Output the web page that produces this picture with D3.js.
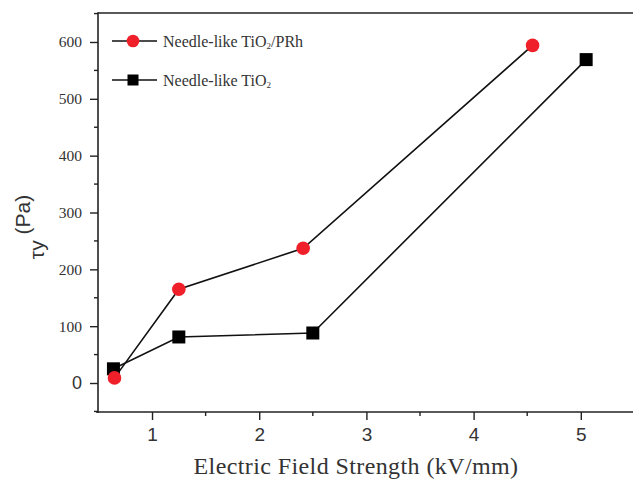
<!DOCTYPE html>
<html>
<head>
<meta charset="utf-8">
<script src="https://cdn.jsdelivr.net/npm/d3@7"></script>
<style>
  body { margin: 0; background: #fff; }
  svg { display: block; }
</style>
</head>
<body>
<svg width="633" height="481"></svg>
<script>
// data
const prhX = [0.65, 1.25, 2.41, 4.55];
const prhY = [9, 165, 237, 594];
const tioX = [0.64, 1.25, 2.50, 5.05];
const tioY = [25, 81, 88, 569];
const xTicks = [1, 2, 3, 4, 5];
const yTicks = [0, 100, 200, 300, 400, 500, 600];
const seriesNames = ["Needle-like TiO", "Needle-like TiO"];

const svg = d3.select("svg"),
    width = 633,
    height = 481;

const pLeft = 98, pTop = 13, pBottom = 412, pRight = 633;

const x = d3.scaleLinear().domain([0.496, 5.487]).range([pLeft, pRight]);
const y = d3.scaleLinear().domain([-51, 651]).range([pBottom, pTop]);

const serif = "'Liberation Serif', 'Times New Roman', serif";
const sans = "'Liberation Sans', Arial, sans-serif";

// frame (top + left + bottom)
svg.append("line")
    .attr("x1", pLeft).attr("x2", pRight).attr("y1", pTop).attr("y2", pTop)
    .attr("stroke", "#222").attr("stroke-width", 1.6);

// y axis
const yAxis = svg.append("g")
    .attr("transform", "translate(" + pLeft + ",0)")
    .call(d3.axisLeft(y).tickValues(yTicks).tickSize(8).tickPadding(8)
        .tickFormat(d3.format("d")));
yAxis.select(".domain").attr("d", "M0," + (pTop - 0.8) + "V" + (pBottom + 0.8))
    .attr("stroke", "#222").attr("stroke-width", 1.6);
yAxis.selectAll(".tick line").attr("stroke", "#222").attr("stroke-width", 1.4);
yAxis.selectAll(".tick text")
    .attr("fill", "#333")
    .style("font-family", function(d) { return d === 0 ? sans : serif; })
    .style("font-size", function(d) { return d === 0 ? "18px" : "15.5px"; });

// y minor ticks
svg.append("g").selectAll("line")
    .data(d3.range(-50, 651, 100))
    .enter().append("line")
    .attr("x1", pLeft - 4).attr("x2", pLeft)
    .attr("y1", function(d) { return y(d); })
    .attr("y2", function(d) { return y(d); })
    .attr("stroke", "#222").attr("stroke-width", 1.4);

// x axis
const xAxis = svg.append("g")
    .attr("transform", "translate(0," + pBottom + ")")
    .call(d3.axisBottom(x).tickValues(xTicks).tickSize(8).tickPadding(8)
        .tickFormat(d3.format("d")));
xAxis.select(".domain").attr("d", "M" + (pLeft - 2) + ",0H" + pRight)
    .attr("stroke", "#222").attr("stroke-width", 1.6);
xAxis.selectAll(".tick line").attr("stroke", "#222").attr("stroke-width", 1.4);
xAxis.selectAll(".tick text")
    .attr("fill", "#333")
    .style("font-family", sans)
    .style("font-size", "19px");

svg.append("g").selectAll("line")
    .data([1.5, 2.5, 3.5, 4.5])
    .enter().append("line")
    .attr("x1", function(d) { return x(d); })
    .attr("x2", function(d) { return x(d); })
    .attr("y1", pBottom).attr("y2", pBottom + 4)
    .attr("stroke", "#222").attr("stroke-width", 1.4);

// axis titles
svg.append("text")
    .attr("x", 356).attr("y", 474)
    .attr("text-anchor", "middle")
    .style("font-family", serif)
    .style("font-size", "24px")
    .style("letter-spacing", "0.4px")
    .attr("fill", "#333")
    .text("Electric Field Strength (kV/mm)");

const yt = svg.append("text")
    .attr("transform", "translate(44,227) rotate(-90)")
    .attr("text-anchor", "middle")
    .style("font-family", sans)
    .style("font-size", "21px")
    .attr("fill", "#333");
yt.append("tspan").text("\u03c4y");
yt.append("tspan").attr("dy", -14).text(" (Pa)");

// lines
const line = d3.line()
    .x(function(d) { return x(d[0]); })
    .y(function(d) { return y(d[1]); });

const prh = d3.zip(prhX, prhY);
const tio = d3.zip(tioX, tioY);

svg.append("path").datum(tio)
    .attr("d", line).attr("fill", "none")
    .attr("stroke", "#111").attr("stroke-width", 1.6);
svg.append("path").datum(prh)
    .attr("d", line).attr("fill", "none")
    .attr("stroke", "#111").attr("stroke-width", 1.6);

svg.append("g").selectAll("rect")
    .data(tio)
    .enter().append("rect")
    .attr("x", function(d) { return x(d[0]) - 6.5; })
    .attr("y", function(d) { return y(d[1]) - 6.5; })
    .attr("width", 13).attr("height", 13)
    .attr("fill", "#000");

svg.append("g").selectAll("circle")
    .data(prh)
    .enter().append("circle")
    .attr("cx", function(d) { return x(d[0]); })
    .attr("cy", function(d) { return y(d[1]); })
    .attr("r", 6.8)
    .attr("fill", "#f0202a");

// legend
const leg = svg.append("g");
const rows = [{ y: 41, name: seriesNames[0], sub: "2", tail: "/PRh", mark: "circle" },
              { y: 80, name: seriesNames[1], sub: "2", tail: "", mark: "rect" }];
rows.forEach(function(r) {
    leg.append("line")
        .attr("x1", 112).attr("x2", 157).attr("y1", r.y).attr("y2", r.y)
        .attr("stroke", "#111").attr("stroke-width", 1.6);
    if (r.mark === "circle") {
        leg.append("circle").attr("cx", 133).attr("cy", r.y).attr("r", 6.3)
            .attr("fill", "#f0202a");
    } else {
        leg.append("rect").attr("x", 127.5).attr("y", r.y - 5.5)
            .attr("width", 11).attr("height", 11).attr("fill", "#000");
    }
    const t = leg.append("text")
        .attr("x", 163).attr("y", r.y + 6)
        .style("font-family", serif)
        .style("font-size", "16px")
        .attr("fill", "#333");
    t.append("tspan").text(r.name);
    t.append("tspan").attr("dy", 2).style("font-size", "9px").text(r.sub);
    if (r.tail) t.append("tspan").attr("dy", -2).text(r.tail);
});
</script>
</body>
</html>
